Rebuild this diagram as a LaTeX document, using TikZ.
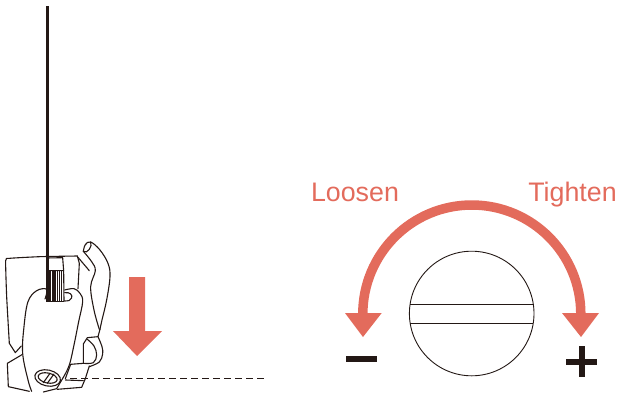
\documentclass[tikz,border=0pt]{standalone}
\usepackage{fontspec}
\setmainfont{Liberation Sans}
\usepackage{xcolor}
\definecolor{adjustred}{RGB}{227, 107, 92}
\definecolor{inkblack}{RGB}{35, 24, 21}
\tikzset{
    devline/.style={draw=inkblack, line width=1.1pt, line join=round, line cap=round},
    redfill/.style={fill=adjustred, draw=none},
    inkfill/.style={fill=inkblack, draw=none},
    turnlabel/.style={text=adjustred, inner sep=0pt, font=\fontsize{26.8}{27}\selectfont, anchor=base}
}

\begin{document}
\begin{tikzpicture}[x=1pt, y=-1pt]
    \useasboundingbox (0,0) rectangle (618,392);
    % clamp, traced in 3x crop units
    \begin{scope}[shift={(0,230)}, x=0.3333pt, y=-0.3333pt]
        % back plate
        \draw[devline] plot[smooth, tension=0.3] coordinates {(232,78) (120,80) (28,85) (17,92) (20,200) (28,340)};
        \draw[devline] (28,340) -- (46,368) -- (64,348);
        \draw[devline] (66,374) -- (22,400) -- (25,470) -- (88,484);
        \draw[devline] (232,78) -- (238,100) -- (234,176);
        % knob with ribs
        \draw[devline] (140,84) -- (188,83) -- (191,122);
        \draw[devline] (148,122) -- (191,122) -- (192,212);
        \foreach \ribx in {152,157,162,167,172,178,185} {
            \draw[inkblack, line width=1.2pt] (\ribx,123) -- (\ribx,214);
        }
        \fill[inkfill] (138,190) rectangle (150,216);
        \fill[inkfill] (146,122) rectangle (154,216);
        \draw[inkblack, line width=1.6pt] (150,214) -- (192,214);
        % front cover
        \draw[devline] plot[smooth, tension=0.6] coordinates {(135,207) (140,178) (110,182) (84,215) (72,290) (68,370) (84,450) (95,484)};
        \draw[devline] plot[smooth, tension=0.6] coordinates {(194,180) (222,176) (240,190) (248,215) (236,275) (222,345) (208,405) (190,442)};
        \draw[devline] (194,188) .. controls (210,186) and (218,194) .. (215,204) .. controls (213,212) and (205,213) .. (192,213);
        \draw[devline] (190,442) -- (170,476) -- (130,486);
        % lever
        \draw[devline] plot[smooth, tension=0.6] coordinates {(250,64) (256,44) (272,36) (300,60) (324,100) (330,140) (320,210) (306,270) (300,298)};
        \draw[devline] (250,64) .. controls (256,68) and (263,66) .. (268,58) .. controls (272,50) and (276,44) .. (272,36);
        \draw[devline] plot[smooth, tension=0.6] coordinates {(250,64) (275,95) (286,122) (272,170) (282,240) (298,298)};
        \draw[devline] (234,82) -- (268,122);
        % lower clamp
        \draw[devline] (300,298) -- (294,320) -- (262,323) -- (250,342) -- (250,400) -- (212,403) -- (196,446);
        \draw[devline] plot[smooth, tension=0.6] coordinates {(294,320) (306,350) (308,372) (298,396) (268,410)};
        \draw[devline] plot[smooth, tension=0.6] coordinates {(262,328) (282,348) (290,375) (280,398) (250,400)};
        \draw[devline] (268,408) -- (256,446) -- (245,472) -- (172,478);
        \draw[devline] (196,450) -- (250,452);
        % screw
        \draw[devline, rotate around={-12:(143,444)}] (143,444) ellipse (39 and 24);
        \draw[devline, rotate around={-12:(143,444)}] (143,444) ellipse (29 and 15);
        \draw[devline] (130,458) -- (150,430);
        \draw[devline] (142,460) -- (162,432);
    \end{scope}
    % pole
    \fill[inkfill] (46,6) rectangle (49,296);
    % dashed level
    \coordinate (levelstart) at (70,378.5);
    \coordinate (levelend) at (265,378.5);
    \draw[inkblack, line width=0.8pt, dash pattern=on 6.5pt off 4.5pt] (levelstart) -- (levelend);
    % push arrow
    \fill[redfill] (129,277) -- (145,277) -- (145,331) -- (162,331) -- (137,356) -- (113,331) -- (129,331) -- cycle;
    % screw head
    \node[draw=inkblack, line width=0.9pt, circle, minimum size=124.6pt, inner sep=0pt] (screwhead) at (471.7,313.5) {};
    \draw[inkblack, line width=0.9pt] (410.1,304) -- (533.3,304);
    \draw[inkblack, line width=0.9pt] (410.1,323) -- (533.3,323);
    % turn arrow
    \draw[adjustred, line width=9.5pt] (362.8,314) arc[start angle=180, end angle=360, radius=109];
    \fill[redfill] (345,313) -- (381.7,313) -- (363,337) -- cycle;
    \fill[redfill] (562,313) -- (599,313) -- (581,337) -- cycle;
    \node[turnlabel] (loosen) at (355,201.5) {Loosen};
    \node[turnlabel] (tighten) at (572.5,201.5) {Tighten};
    % signs
    \fill[inkfill] (346,356) rectangle (377,362.3);
    \fill[inkfill] (566,358.7) rectangle (597,364.7);
    \fill[inkfill] (578.7,346) rectangle (584.7,377);
\end{tikzpicture}
\end{document}
